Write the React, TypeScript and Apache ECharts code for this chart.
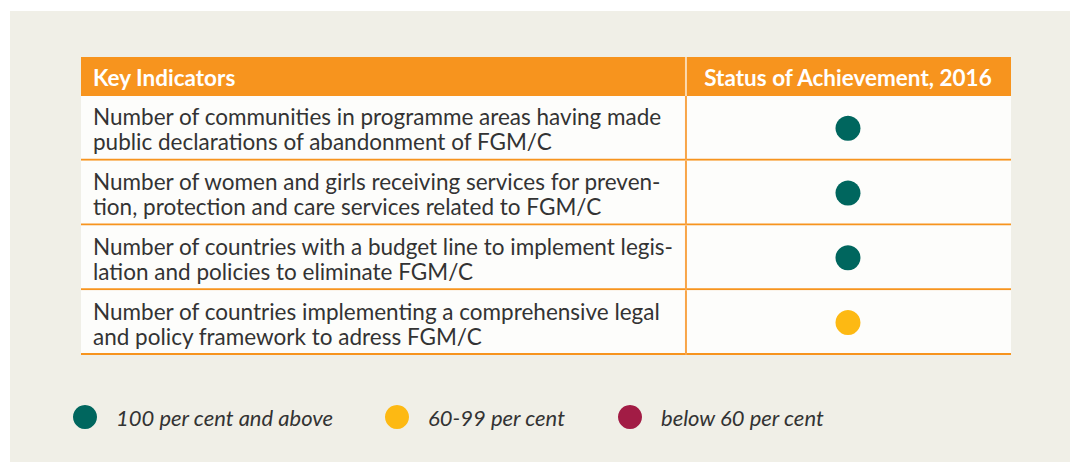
import React, { useEffect, useRef } from "react";
import * as echarts from "echarts";

const headers = ["Key Indicators", "Status of Achievement, 2016"];
const indicators = [
  "Number of communities in programme areas having made\npublic declarations of abandonment of FGM/C",
  "Number of women and girls receiving services for preven-\ntion, protection and care services related to FGM/C",
  "Number of countries with a budget line to implement legis-\nlation and policies to eliminate FGM/C",
  "Number of countries implementing a comprehensive legal\nand policy framework to adress FGM/C",
];
const statusLevels = ["100 per cent and above", "60-99 per cent", "below 60 per cent"];
const statusColors = ["#00665E", "#FDB913", "#A21C45"];
// status level index achieved by each indicator
const statusByIndicator = [0, 0, 0, 1];

const FONT = "Lato";
const ORANGE = "#F7941E";
const DIVIDER = 0.6505; // column divider as fraction of table width
const DOTX = 0.8247; // status column centre as fraction of table width

export default function App() {
  const ref = useRef<HTMLDivElement>(null);
  useEffect(() => {
    const chart = echarts.init(ref.current!, null, { renderer: "svg" });
    const tableLeft = 81;
    const tableWidth = 930;
    const option: any = {
      animation: false,
      grid: { left: tableLeft, top: 96, width: tableWidth, height: 259 },
      xAxis: { type: "value", min: 0, max: 1, show: false },
      yAxis: {
        type: "category",
        inverse: true,
        data: indicators.map((_, i) => String(i)),
        show: false,
      },
      legend: statusLevels.map((name, i) => ({
        data: [{ name, icon: "circle" }],
        left: [73, 385, 618][i],
        top: 405,
        padding: 0,
        itemWidth: 24,
        itemHeight: 24,
        selectedMode: false,
        textStyle: {
          fontFamily: FONT,
          fontStyle: "italic",
          fontSize: 22,
          color: "#333",
          padding: [0, 0, 0, 14],
        },
      })),
      graphic: [
        { type: "rect", left: 10, top: 11, shape: { width: 1060, height: 451 }, style: { fill: "#F0EFE7" }, z: -10 },
        { type: "rect", left: tableLeft, top: 57, shape: { width: tableWidth, height: 39 }, style: { fill: ORANGE }, z: 1 },
        {
          type: "line",
          shape: { x1: tableLeft + tableWidth * DIVIDER, y1: 57, x2: tableLeft + tableWidth * DIVIDER, y2: 96 },
          style: { stroke: "#FBD9AE", lineWidth: 2 },
          z: 2,
        },
        {
          type: "text",
          x: 93,
          y: 77,
          style: { text: headers[0], fill: "#fff", font: `bold 22.5px ${FONT}`, verticalAlign: "middle" },
          z: 2,
        },
        {
          type: "text",
          x: tableLeft + tableWidth * DOTX,
          y: 77,
          style: { text: headers[1], fill: "#fff", font: `bold 22.5px ${FONT}`, align: "center", verticalAlign: "middle" },
          z: 2,
        },
      ],
      series: [
        {
          type: "custom",
          z: 1,
          silent: true,
          encode: { x: 0, y: 1 },
          data: indicators.map((_, i) => [0, i]),
          renderItem: (params: any, api: any) => {
            const idx = api.value(1);
            const p0 = api.coord([0, idx]);
            const p1 = api.coord([1, idx]);
            const pd = api.coord([DIVIDER, idx]);
            const h = api.size([0, 1])[1];
            const top = p0[1] - h / 2;
            return {
              type: "group",
              children: [
                { type: "rect", shape: { x: p0[0], y: top, width: p1[0] - p0[0], height: h }, style: { fill: "#FDFDFB" } },
                {
                  type: "line",
                  shape: { x1: p0[0], y1: top + h - 1, x2: p1[0], y2: top + h - 1 },
                  style: { stroke: ORANGE, lineWidth: 2 },
                },
                {
                  type: "line",
                  shape: { x1: pd[0], y1: top, x2: pd[0], y2: top + h },
                  style: { stroke: "#F8A548", lineWidth: 2 },
                },
                {
                  type: "text",
                  x: p0[0] + 12,
                  y: p0[1] + 1,
                  style: {
                    text: indicators[idx],
                    fill: "#333",
                    font: `22.5px ${FONT}`,
                    lineHeight: 25,
                    verticalAlign: "middle",
                  },
                },
              ],
            };
          },
        },
        ...statusLevels.map((name, s) => ({
          type: "scatter",
          name,
          z: 3,
          symbol: "circle",
          symbolSize: 25,
          itemStyle: { color: statusColors[s], opacity: 1 },
          data: statusByIndicator
            .map((st, i) => (st === s ? [DOTX, i] : null))
            .filter((d) => d !== null),
        })),
      ],
    };
    chart.setOption(option);
    return () => chart.dispose();
  }, []);
  return (
    <div
      ref={ref}
      style={{ position: "absolute", left: 0, top: 0, width: 1070, height: 462, background: "#fff" }}
    />
  );
}
